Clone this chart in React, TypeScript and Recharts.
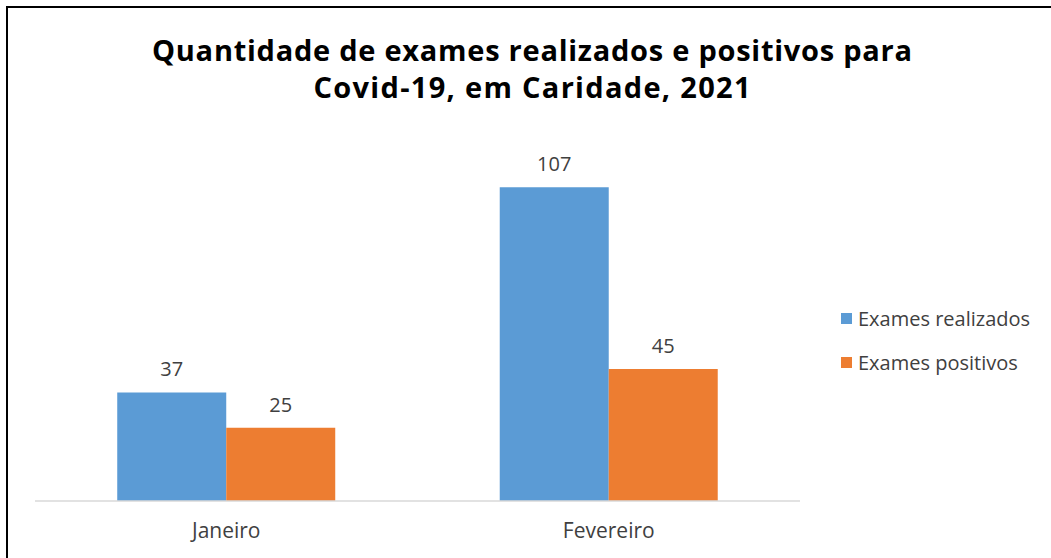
import React from "react";
import { BarChart, Bar, XAxis, YAxis, LabelList } from "recharts";

const categories = ["Janeiro", "Fevereiro"];
const realizados = [37, 107];
const positivos = [25, 45];
const seriesNames = ["Exames realizados", "Exames positivos"];
const seriesColors = ["#5B9BD5", "#ED7D31"];
const titleLines = [
  "Quantidade de exames realizados e positivos para",
  "Covid-19, em Caridade, 2021",
];

const data = categories.map((c, i) => ({
  name: c,
  realizados: realizados[i],
  positivos: positivos[i],
}));

const FONT = "'Open Sans', Lato, sans-serif";
const titleWidths = [760, 437];

export default function App() {
  return (
    <div
      style={{
        position: "absolute",
        left: 0,
        top: 0,
        width: 1051,
        height: 558,
        background: "#fff",
        overflow: "hidden",
        fontFamily: FONT,
      }}
    >
      <div
        style={{
          position: "absolute",
          left: 6,
          top: 6,
          width: 1080,
          height: 600,
          border: "2px solid #000",
          boxSizing: "border-box",
        }}
      />
      <BarChart
        width={1051}
        height={558}
        data={data}
        margin={{ top: 149, right: 251, bottom: 27, left: 35 }}
        barCategoryGap="21.5%"
        barGap={0}
        style={{ position: "absolute", left: 0, top: 0 }}
      >
        <XAxis
          dataKey="name"
          axisLine={{ stroke: "#D9D9D9", strokeWidth: 1.5 }}
          tickLine={false}
          tickMargin={16}
          tick={{ fill: "#404040", fontSize: 21, fontFamily: FONT }}
          interval={0}
        />
        <YAxis hide domain={[0, 120]} />
        <Bar dataKey="realizados" name={seriesNames[0]} fill={seriesColors[0]} isAnimationActive={false}>
          <LabelList dataKey="realizados" position="top" offset={16} fill="#404040" fontSize={20} fontFamily={FONT} />
        </Bar>
        <Bar dataKey="positivos" name={seriesNames[1]} fill={seriesColors[1]} isAnimationActive={false}>
          <LabelList dataKey="positivos" position="top" offset={16} fill="#404040" fontSize={20} fontFamily={FONT} />
        </Bar>
      </BarChart>
      <svg
        width={1051}
        height={558}
        style={{ position: "absolute", left: 0, top: 0, pointerEvents: "none" }}
      >
        {titleLines.map((t, i) => (
          <text
            key={i}
            x={532}
            y={61 + i * 37}
            textAnchor="middle"
            fontFamily={FONT}
            fontWeight={700}
            fontSize={29}
            fill="#000"
            textLength={titleWidths[i]}
            lengthAdjust="spacing"
          >
            {t}
          </text>
        ))}
        {seriesNames.map((n, i) => (
          <g key={n}>
            <rect x={841} y={313 + i * 44} width={11} height={11} fill={seriesColors[i]} />
            <text x={858} y={326 + i * 44} fontFamily={FONT} fontSize={20} fill="#404040">
              {n}
            </text>
          </g>
        ))}
      </svg>
    </div>
  );
}
